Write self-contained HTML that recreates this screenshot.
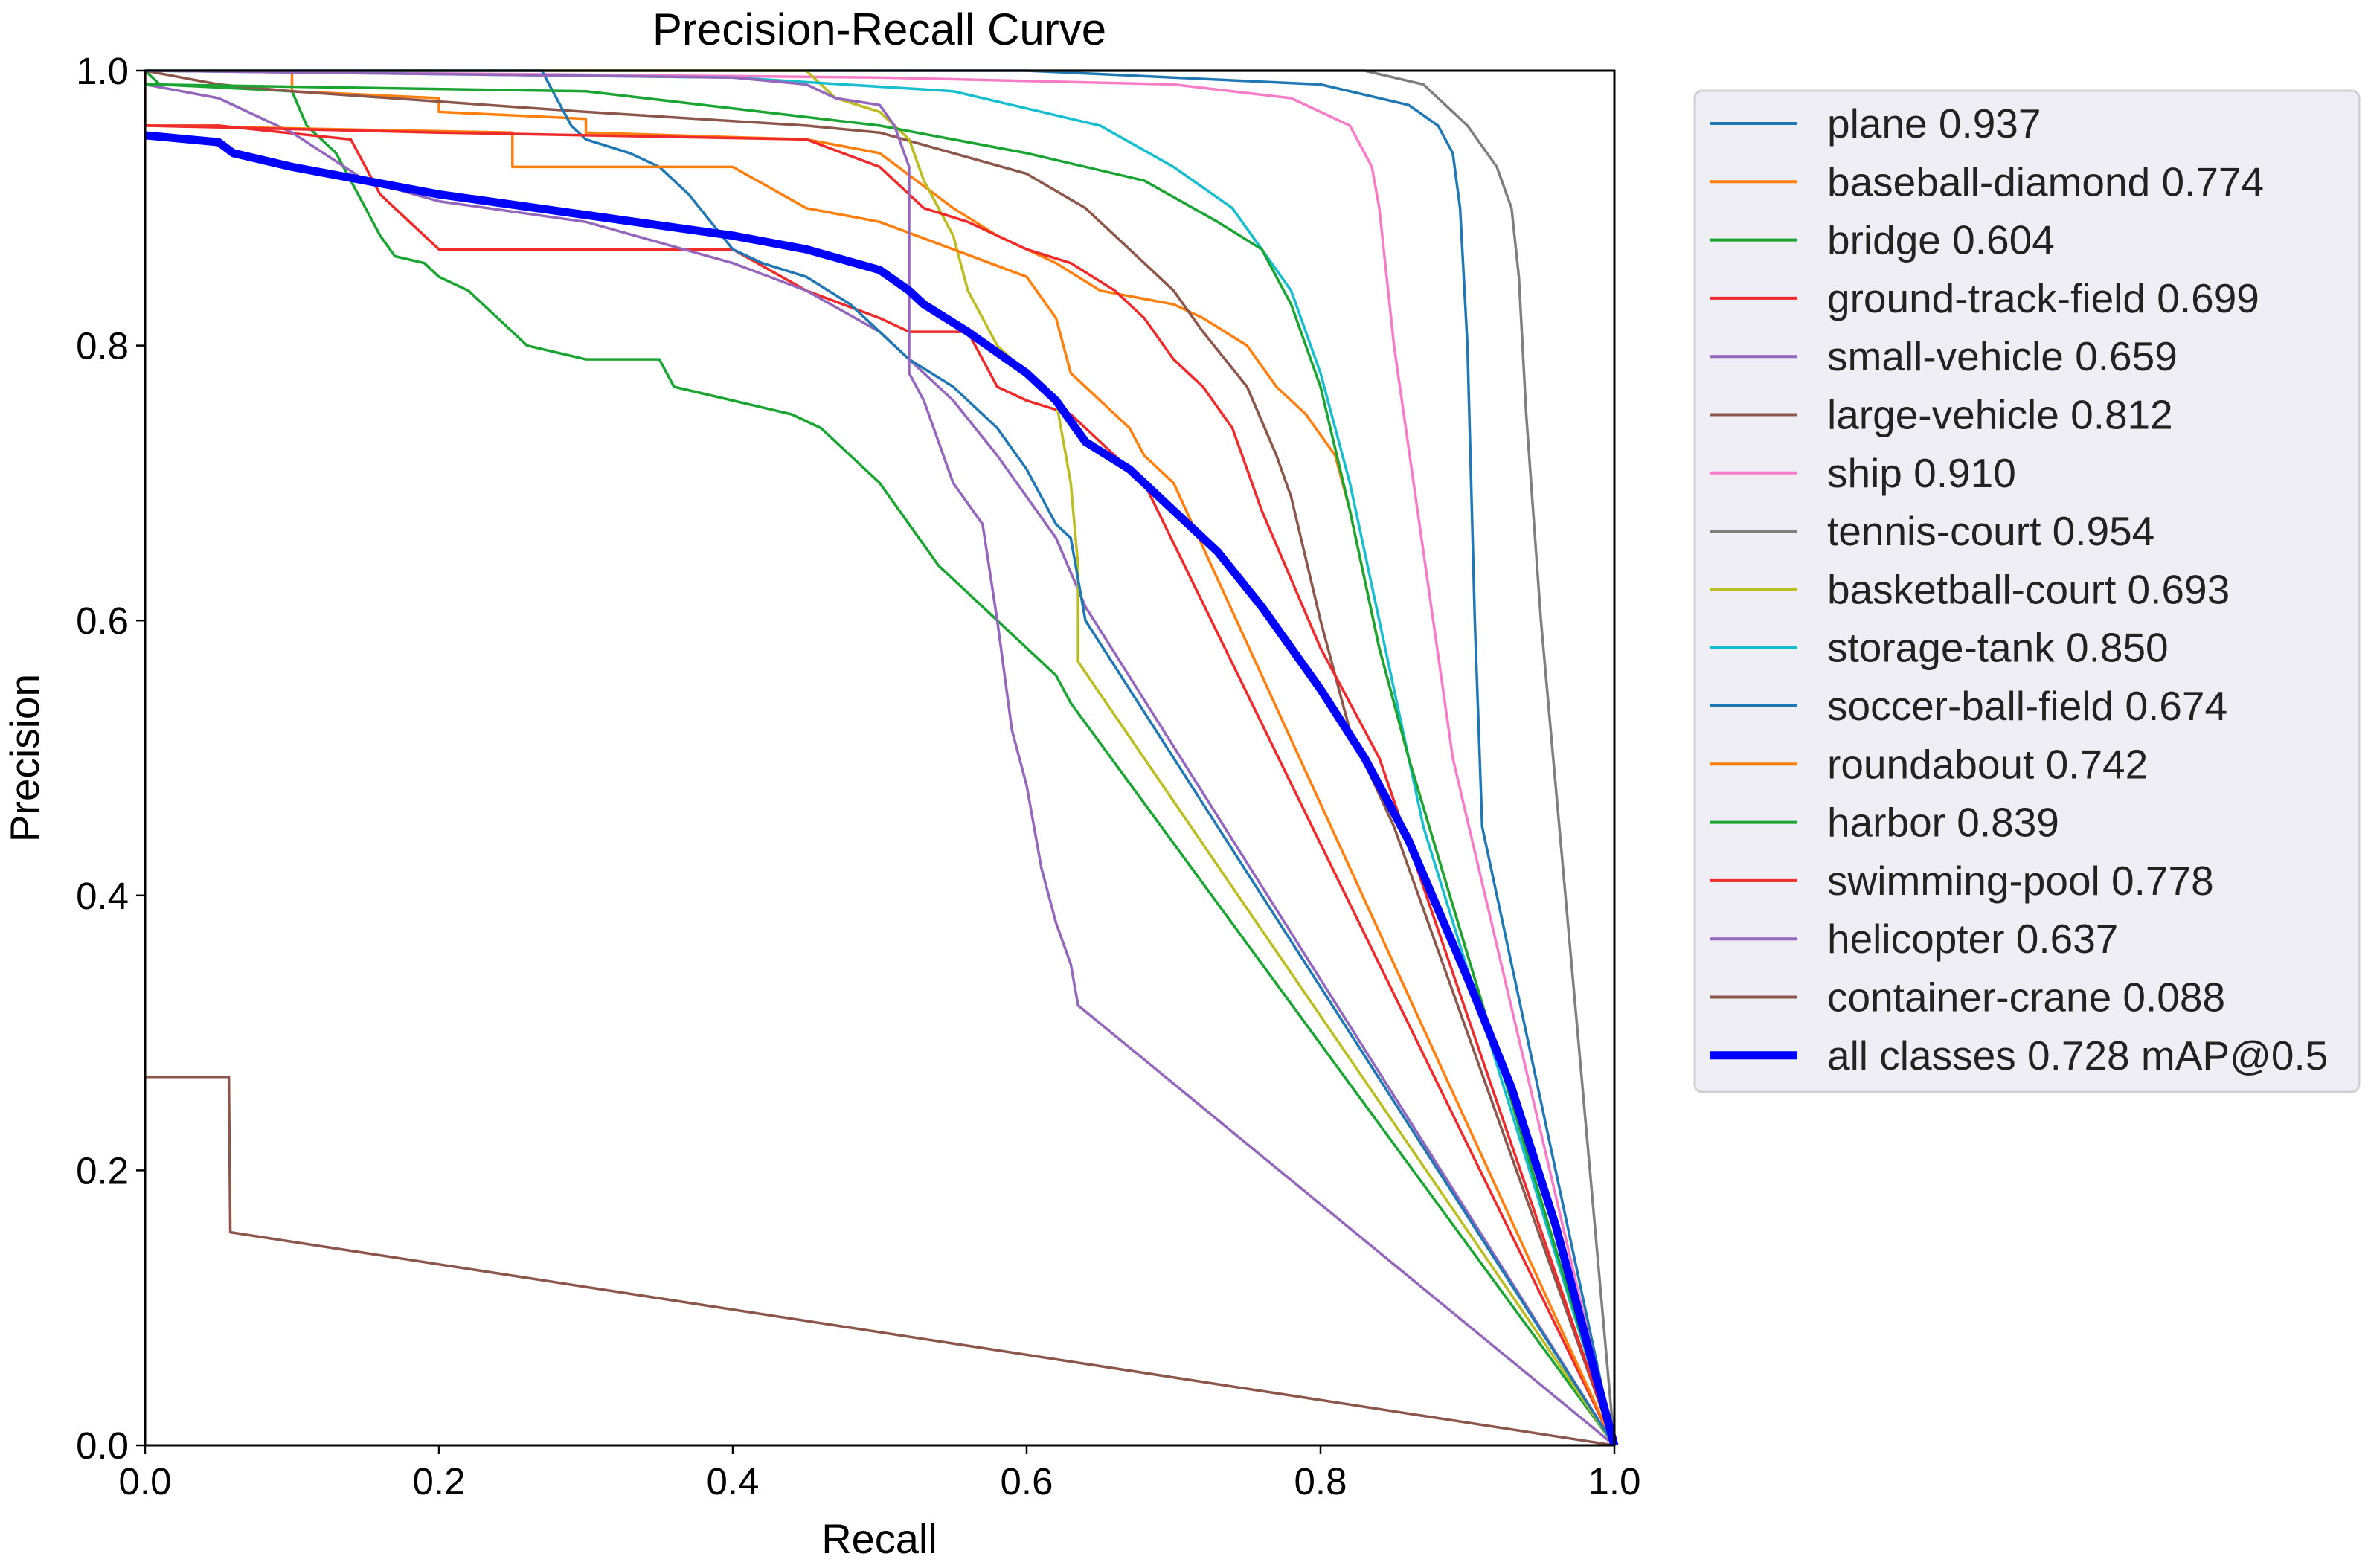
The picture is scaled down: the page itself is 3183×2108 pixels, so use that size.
<!DOCTYPE html>
<html><head><meta charset="utf-8"><style>
html,body{margin:0;padding:0;background:#fff;}
svg{display:block;font-family:"Liberation Sans",Arial,sans-serif;}
</style></head><body>
<svg id="chart" width="3183" height="2108" viewBox="0 0 3183 2108" xmlns="http://www.w3.org/2000/svg">
<rect x="0" y="0" width="3183" height="2108" fill="#fff"/>
<text x="1182" y="60" font-size="60" text-anchor="middle" fill="#000">Precision-Recall Curve</text>
<text x="1182" y="2088" font-size="56" text-anchor="middle" fill="#000">Recall</text>
<text x="52" y="1019" font-size="55" text-anchor="middle" fill="#000" transform="rotate(-90 52 1019)">Precision</text>
<g id="series"></g>
<g id="axes"></g>
<g id="legend"></g>
</svg>
<script>
const xTicks = [0, 0.2, 0.4, 0.6, 0.8, 1.0];
const yTicks = [0, 0.2, 0.4, 0.6, 0.8, 1.0];
const tickLabels = ["0.0", "0.2", "0.4", "0.6", "0.8", "1.0"];
const classNames = ["plane 0.937","baseball-diamond 0.774","bridge 0.604","ground-track-field 0.699","small-vehicle 0.659","large-vehicle 0.812","ship 0.910","tennis-court 0.954","basketball-court 0.693","storage-tank 0.850","soccer-ball-field 0.674","roundabout 0.742","harbor 0.839","swimming-pool 0.778","helicopter 0.637","container-crane 0.088","all classes 0.728 mAP@0.5"];
const colors = ["#1f77b4","#ff7f0e","#1aa533","#ee2a2a","#9467bd","#8c564b","#f77cc8","#7f7f7f","#bcbd22","#17becf","#1f77b4","#ff7f0e","#1aa533","#ee2a2a","#9467bd","#8c564b","#0000ff"];
const planeR = [0,0.6,0.8,0.86,0.88,0.89,0.895,0.9,0.905,0.91,1];
const planeP = [1,1,0.99,0.975,0.96,0.94,0.9,0.8,0.6,0.45,0];
const baseballR = [0,0.1,0.1,0.2,0.2,0.3,0.3,0.45,0.5,0.55,0.58,0.62,0.65,0.7,0.72,0.75,0.77,0.79,0.81,0.82,0.84,0.86,1];
const baseballP = [1,1,0.985,0.98,0.97,0.965,0.955,0.95,0.94,0.9,0.88,0.86,0.84,0.83,0.82,0.8,0.77,0.75,0.72,0.68,0.58,0.5,0];
const bridgeR = [0,0.01,0.1,0.11,0.12,0.13,0.14,0.15,0.16,0.17,0.19,0.2,0.22,0.24,0.26,0.28,0.3,0.35,0.36,0.4,0.44,0.46,0.48,0.5,0.52,0.54,0.56,0.58,0.6,0.62,0.63,1];
const bridgeP = [1,0.99,0.985,0.96,0.95,0.94,0.92,0.9,0.88,0.865,0.86,0.85,0.84,0.82,0.8,0.795,0.79,0.79,0.77,0.76,0.75,0.74,0.72,0.7,0.67,0.64,0.62,0.6,0.58,0.56,0.54,0];
const gtfR = [0,0,0.05,0.14,0.15,0.16,0.18,0.2,0.4,0.45,0.5,0.52,0.56,0.58,0.6,0.63,0.66,0.68,1];
const gtfP = [1,0.96,0.96,0.95,0.93,0.91,0.89,0.87,0.87,0.84,0.82,0.81,0.81,0.77,0.76,0.75,0.72,0.7,0];
const smallVehR = [0,0.05,0.1,0.15,0.2,0.3,0.4,0.45,0.5,0.52,0.55,0.58,0.6,0.62,0.64,1];
const smallVehP = [0.99,0.98,0.955,0.92,0.905,0.89,0.86,0.84,0.81,0.79,0.76,0.72,0.69,0.66,0.61,0];
const largeVehR = [0,0.05,0.1,0.3,0.45,0.5,0.55,0.6,0.64,0.67,0.7,0.72,0.75,0.77,0.78,0.8,0.82,0.85,1];
const largeVehP = [1,0.99,0.985,0.97,0.96,0.955,0.94,0.925,0.9,0.87,0.84,0.81,0.77,0.72,0.69,0.6,0.52,0.45,0];
const shipR = [0,0.5,0.7,0.78,0.82,0.835,0.84,0.85,0.87,0.89,1];
const shipP = [1,0.995,0.99,0.98,0.96,0.93,0.9,0.8,0.65,0.5,0];
const tennisR = [0,0.83,0.87,0.9,0.92,0.93,0.935,0.94,0.95,1];
const tennisP = [1,1,0.99,0.96,0.93,0.9,0.85,0.75,0.6,0];
const basketR = [0,0.45,0.47,0.5,0.52,0.53,0.55,0.56,0.58,0.6,0.62,0.63,0.635,0.635,1];
const basketP = [1,1,0.98,0.97,0.95,0.92,0.88,0.84,0.8,0.78,0.76,0.7,0.64,0.57,0];
const storageR = [0,0.4,0.55,0.65,0.7,0.74,0.76,0.78,0.8,0.82,0.84,0.87,1];
const storageP = [1,0.995,0.985,0.96,0.93,0.9,0.87,0.84,0.78,0.7,0.6,0.45,0];
const soccerR = [0,0.27,0.28,0.29,0.3,0.33,0.35,0.37,0.4,0.42,0.45,0.48,0.5,0.52,0.55,0.58,0.6,0.62,0.63,0.64,1];
const soccerP = [1,1,0.98,0.96,0.95,0.94,0.93,0.91,0.87,0.86,0.85,0.83,0.81,0.79,0.77,0.74,0.71,0.67,0.66,0.6,0];
const roundR = [0,0.25,0.25,0.4,0.45,0.5,0.55,0.6,0.62,0.63,0.65,0.67,0.68,0.7,1];
const roundP = [0.96,0.955,0.93,0.93,0.9,0.89,0.87,0.85,0.82,0.78,0.76,0.74,0.72,0.7,0];
const harborR = [0,0.3,0.5,0.6,0.68,0.73,0.76,0.78,0.8,0.82,0.84,0.86,1];
const harborP = [0.99,0.985,0.96,0.94,0.92,0.89,0.87,0.83,0.77,0.68,0.58,0.5,0];
const poolR = [0,0.2,0.45,0.5,0.53,0.56,0.6,0.63,0.66,0.68,0.7,0.72,0.74,0.75,0.76,0.8,0.84,1];
const poolP = [0.96,0.955,0.95,0.93,0.9,0.89,0.87,0.86,0.84,0.82,0.79,0.77,0.74,0.71,0.68,0.58,0.5,0];
const heliR = [0,0.4,0.45,0.47,0.5,0.51,0.52,0.52,0.53,0.55,0.57,0.58,0.59,0.6,0.61,0.62,0.63,0.635,1];
const heliP = [1,0.995,0.99,0.98,0.975,0.96,0.93,0.78,0.76,0.7,0.67,0.6,0.52,0.48,0.42,0.38,0.35,0.32,0];
const craneR = [0,0.057,0.058,1];
const craneP = [0.268,0.268,0.155,0];
const allR = [0,0.05,0.06,0.1,0.15,0.2,0.3,0.4,0.45,0.5,0.52,0.53,0.56,0.6,0.62,0.64,0.67,0.7,0.73,0.76,0.8,0.83,0.86,0.9,0.93,0.96,1];
const allP = [0.953,0.948,0.94,0.93,0.92,0.91,0.895,0.88,0.87,0.855,0.84,0.83,0.81,0.78,0.76,0.73,0.71,0.68,0.65,0.61,0.55,0.5,0.44,0.34,0.26,0.16,0];

const recalls = [planeR,baseballR,bridgeR,gtfR,smallVehR,largeVehR,shipR,tennisR,basketR,storageR,soccerR,roundR,harborR,poolR,heliR,craneR,allR];
const precisions = [planeP,baseballP,bridgeP,gtfP,smallVehP,largeVehP,shipP,tennisP,basketP,storageP,soccerP,roundP,harborP,poolP,heliP,craneP,allP];

const NS = "http://www.w3.org/2000/svg";
const L = 195, R = 2170, T = 95, B = 1943;
function xs(v){ return L + v * (R - L); }
function ys(v){ return B - v * (B - T); }
function mk(tag, attrs, parent){ const e = document.createElementNS(NS, tag); for (const k in attrs) e.setAttribute(k, attrs[k]); parent.appendChild(e); return e; }

const sg = document.getElementById('series');
const clip = mk('clipPath', {id:'plotclip'}, sg);
mk('rect', {x:L, y:T-6, width:R-L+6, height:B-T+6}, clip);
sg.setAttribute('clip-path', 'url(#plotclip)');
for (let i = 0; i < recalls.length; i++) {
  const pts = recalls[i].map((r, j) => xs(r).toFixed(1) + ',' + ys(precisions[i][j]).toFixed(1)).join(' ');
  const pl = mk('polyline', {points: pts, fill:'none', stroke: colors[i], 'stroke-width': i === 16 ? 11 : 3.5, 'stroke-linejoin':'round'}, sg);
  
  
}

const ax = document.getElementById('axes');
const frame = mk('rect', {x:L, y:T, width:R-L, height:B-T, fill:'none', stroke:'#000', 'stroke-width':3}, ax);


for (let i = 0; i < xTicks.length; i++) {
  const x = xs(xTicks[i]);
  const tk = mk('line', {x1:x, y1:B, x2:x, y2:B+12, stroke:'#000', 'stroke-width':2.5}, ax);
  
  
  const t = mk('text', {x:x, y:B+66, 'font-size':51, 'text-anchor':'middle', fill:'#000'}, ax);
  t.textContent = tickLabels[i];
  
  
}
for (let i = 0; i < yTicks.length; i++) {
  const y = ys(yTicks[i]);
  const tk = mk('line', {x1:L-12, y1:y, x2:L, y2:y, stroke:'#000', 'stroke-width':2.5}, ax);
  
  
  const t = mk('text', {x:L-22, y:y+18, 'font-size':51, 'text-anchor':'end', fill:'#000'}, ax);
  t.textContent = tickLabels[i];
  
  
}

const lg = document.getElementById('legend');
const box = mk('rect', {x:2278, y:122, width:893, height:1346, rx:10, fill:'#eeeef4', stroke:'#cfcfd4', 'stroke-width':3}, lg);


for (let i = 0; i < classNames.length; i++) {
  const y = 166 + i * 78.3;
  const g = mk('g', {}, lg);
  
  
  mk('line', {x1:2298, y1:y, x2:2416, y2:y, stroke:colors[i], 'stroke-width': i === 16 ? 11 : 4}, g);
  const t = mk('text', {x:2456, y:y+19, 'font-size':55, fill:'#222'}, g);
  t.textContent = classNames[i];
}
</script>
</body></html>
